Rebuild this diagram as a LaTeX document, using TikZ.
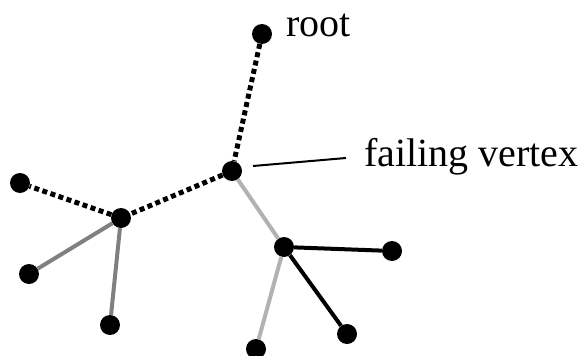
\documentclass[tikz,border=0pt]{standalone}
\usepackage{fontspec}
\setmainfont{Liberation Serif}
\begin{document}
\begin{tikzpicture}[x=1pt,y=-1pt,
  dot/.style={circle,fill=black,inner sep=0pt,minimum size=20pt},
  lbl/.style={inner sep=0pt,font=\fontsize{40}{48}\selectfont},
  dotted edge/.style={line width=5pt,dash pattern=on 5pt off 3.5pt},
  dark edge/.style={line width=4pt,color=black!50},
  light edge/.style={line width=4pt,color=black!30},
  black edge/.style={line width=4pt,color=black},
  leader/.style={line width=2pt}]
\useasboundingbox (0,0) rectangle (581,356);
\node[dot] (root) at (262,34) {};
\node[dot] (fail) at (232,171) {};
\node[dot] (lhub) at (121,218) {};
\node[dot] (farleft) at (20,183) {};
\node[dot] (botleft) at (29,274) {};
\node[dot] (botmid) at (110,325) {};
\node[dot] (rhub) at (284,247) {};
\node[dot] (right) at (392,251) {};
\node[dot] (botright) at (347,334) {};
\node[dot] (bot) at (256,349) {};
\node[lbl,anchor=base west] (rootlbl) at (286,36) {root};
\node[lbl,anchor=base west] (faillbl) at (364,166) {failing vertex};
\coordinate (leadA) at (253,166);
\coordinate (leadB) at (346,158);
\draw[dotted edge] (root) -- (fail);
\draw[dotted edge] (fail) -- (lhub);
\draw[dotted edge] (lhub) -- (farleft);
\draw[dark edge] (lhub) -- (botleft);
\draw[dark edge] (lhub) -- (botmid);
\draw[light edge] (fail) -- (rhub);
\draw[light edge] (rhub) -- (bot);
\draw[black edge] (rhub) -- (right);
\draw[black edge] (rhub) -- (botright);
\draw[leader] (leadA) -- (leadB);
\end{tikzpicture}
\end{document}
